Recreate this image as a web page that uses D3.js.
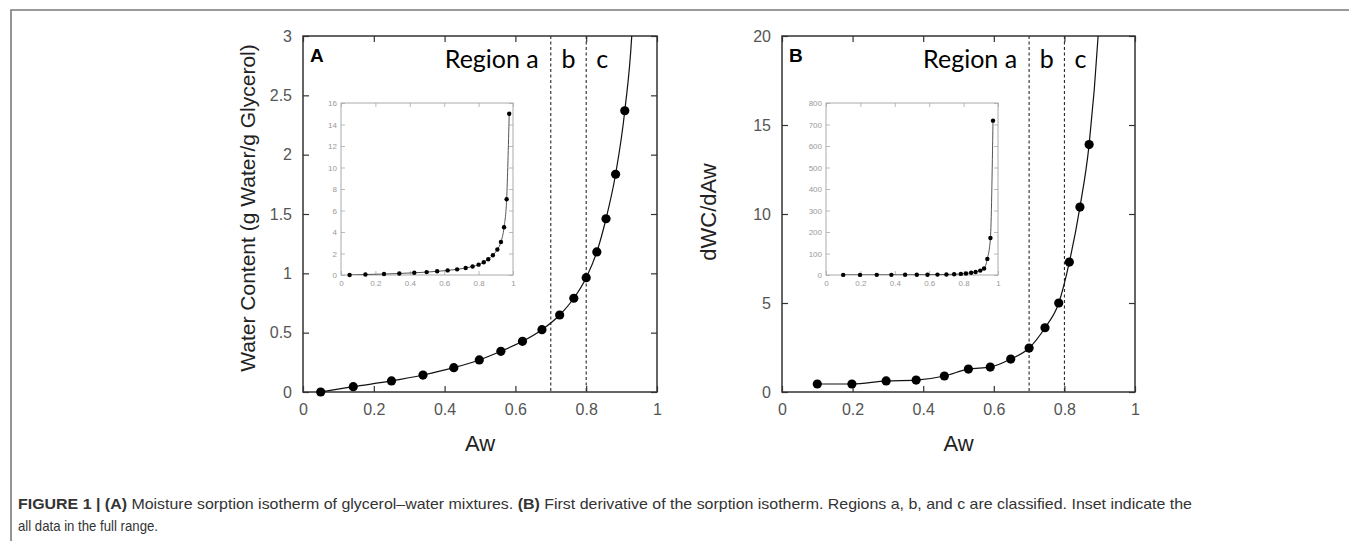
<!DOCTYPE html>
<html><head><meta charset="utf-8">
<script src="https://cdn.jsdelivr.net/npm/d3@7"></script>
<style>
html,body{margin:0;padding:0;background:#fff;}
svg{display:block;}
</style></head>
<body>
<svg id="chart" width="1349" height="541"></svg>
<script>
// ---------- DATA ----------
const awA = [0.05, 0.142, 0.25, 0.339, 0.426, 0.498, 0.559, 0.62, 0.675, 0.725, 0.765, 0.80, 0.83, 0.856, 0.883, 0.909, 0.93, 0.948, 0.963, 0.978];
const waterContent = [0, 0.045, 0.093, 0.143, 0.205, 0.27, 0.343, 0.427, 0.525, 0.649, 0.79, 0.963, 1.18, 1.46, 1.835, 2.37, 3.07, 4.44, 7.05, 15.0];
const awB = [0.10, 0.198, 0.295, 0.38, 0.46, 0.528, 0.59, 0.648, 0.70, 0.745, 0.784, 0.814, 0.844, 0.87, 0.897, 0.919, 0.938, 0.956, 0.971];
const dWCdAw = [0.45, 0.45, 0.62, 0.67, 0.9, 1.29, 1.40, 1.85, 2.47, 3.61, 5.0, 7.3, 10.39, 13.9, 20.5, 30, 75, 172, 718];

const xTicks = [0, 0.2, 0.4, 0.6, 0.8, 1];
const xTickLabels = ["0", "0.2", "0.4", "0.6", "0.8", "1"];
const yTicksA = [0, 0.5, 1, 1.5, 2, 2.5, 3];
const yTickLabelsA = ["0", "0.5", "1", "1.5", "2", "2.5", "3"];
const yTicksB = [0, 5, 10, 15, 20];
const yTickLabelsB = ["0", "5", "10", "15", "20"];
const insetYTicksA = [0, 2, 4, 6, 8, 10, 12, 14, 16];
const insetYTicksB = [0, 100, 200, 300, 400, 500, 600, 700, 800];
const regionBounds = [0.7, 0.8];
const regionLabels = ["Region a", "b", "c"];

const svg = d3.select("#chart");

// frame
svg.append("path").attr("d", "M11,541 L11,10 L1349,10")
  .attr("fill", "none").attr("stroke", "#7a7a7a").attr("stroke-width", 1.6);

function panel(cfg) {
  const g = svg.append("g");
  const x = d3.scaleLinear().domain([0, 1]).range([cfg.x0, cfg.x1]);
  const y = d3.scaleLinear().domain(cfg.yDomain).range([cfg.y1, cfg.y0]);
  const data = cfg.xs.map((d, i) => [d, cfg.ys[i]]);
  const clipId = "clip" + cfg.id;
  svg.append("clipPath").attr("id", clipId).append("rect")
    .attr("x", cfg.x0).attr("y", cfg.y0).attr("width", cfg.x1 - cfg.x0).attr("height", cfg.y1 - cfg.y0);

  if (!cfg.inset) {
    g.selectAll("line.reg").data(regionBounds).join("line")
      .attr("x1", d => x(d)).attr("x2", d => x(d))
      .attr("y1", cfg.y0).attr("y2", cfg.y1)
      .attr("stroke", "#111").attr("stroke-width", 1).attr("stroke-dasharray", "3,2.5");
  }

  const fs = cfg.inset ? 8 : 16;
  const col = cfg.inset ? "#999" : "#555";
  const tl = cfg.inset ? 4 : 6;
  const axisStroke = cfg.inset ? "#aaa" : "#333";

  const xb = g.append("g").attr("transform", `translate(0,${cfg.y1})`)
    .call(d3.axisBottom(x).tickValues(xTicks).tickFormat((d, i) => xTickLabels[i]).tickSize(-tl).tickPadding(cfg.inset ? 5 : 12));
  const xt = g.append("g").attr("transform", `translate(0,${cfg.y0})`)
    .call(d3.axisTop(x).tickValues(xTicks).tickFormat("").tickSize(-tl));
  const yl = g.append("g").attr("transform", `translate(${cfg.x0},0)`)
    .call(d3.axisLeft(y).tickValues(cfg.yTicks).tickFormat((d, i) => cfg.yLabels[i]).tickSize(-tl).tickPadding(cfg.inset ? 4 : 11));
  const yr = g.append("g").attr("transform", `translate(${cfg.x1},0)`)
    .call(d3.axisRight(y).tickValues(cfg.yTicks).tickFormat("").tickSize(-tl));
  [xb, xt, yl, yr].forEach(a => {
    a.select(".domain").remove();
    a.selectAll(".tick line").attr("stroke", axisStroke).attr("stroke-width", cfg.inset ? 0.8 : 1.2);
    a.selectAll(".tick text").attr("font-family", "Liberation Sans, Arial, sans-serif")
      .attr("font-size", fs).attr("fill", col);
  });
  g.append("rect").attr("x", cfg.x0).attr("y", cfg.y0)
    .attr("width", cfg.x1 - cfg.x0).attr("height", cfg.y1 - cfg.y0)
    .attr("fill", "none").attr("stroke", axisStroke).attr("stroke-width", cfg.inset ? 1 : 1.5);

  const line = d3.line().x(d => x(d[0])).y(d => y(d[1])).curve(d3.curveMonotoneX);
  g.append("path").datum(data).attr("d", line).attr("clip-path", `url(#${clipId})`)
    .attr("fill", "none").attr("stroke", cfg.inset ? "#555" : "#111").attr("stroke-width", cfg.inset ? 1 : 1.2);
  g.selectAll("circle").data(data.filter(d => d[1] <= cfg.yDomain[1])).join("circle")
    .attr("cx", d => x(d[0])).attr("cy", d => y(d[1])).attr("r", cfg.inset ? 2.2 : 4.6)
    .attr("fill", "#000");
  return {x, y};
}

function mainLabels(p, letter, cfg) {
  svg.append("text").attr("x", cfg.x0 + 7).attr("y", 62).text(letter)
    .attr("font-family", "Liberation Sans, Arial, sans-serif").attr("font-weight", "bold")
    .attr("font-size", 19).attr("fill", "#000");
  svg.append("text").attr("x", p.x(0.7) - 12).attr("y", 68).attr("text-anchor", "end")
    .text(regionLabels[0]).attr("font-family", "Lato, sans-serif").attr("font-size", 25).attr("fill", "#000");
  svg.append("text").attr("x", p.x(0.75)).attr("y", 68).attr("text-anchor", "middle")
    .text(regionLabels[1]).attr("font-family", "Lato, sans-serif").attr("font-size", 25).attr("fill", "#000");
  svg.append("text").attr("x", p.x(0.8) + 16).attr("y", 68).attr("text-anchor", "middle")
    .text(regionLabels[2]).attr("font-family", "Lato, sans-serif").attr("font-size", 25).attr("fill", "#000");
  svg.append("text").attr("x", (cfg.x0 + cfg.x1) / 2).attr("y", 451).attr("text-anchor", "middle")
    .text("Aw").attr("font-family", "Liberation Sans, Arial, sans-serif").attr("font-size", 22).attr("fill", "#222");
}

const cfgA = {id: "A", x0: 303, x1: 657, y0: 36, y1: 392, yDomain: [0, 3], yTicks: yTicksA, yLabels: yTickLabelsA, xs: awA, ys: waterContent};
const cfgAi = {id: "Ai", inset: true, x0: 341, x1: 513, y0: 103, y1: 275, yDomain: [0, 16], yTicks: insetYTicksA, yLabels: insetYTicksA.map(String), xs: awA, ys: waterContent};
const cfgB = {id: "B", x0: 782, x1: 1135, y0: 36, y1: 392, yDomain: [0, 20], yTicks: yTicksB, yLabels: yTickLabelsB, xs: awB, ys: dWCdAw};
const cfgBi = {id: "Bi", inset: true, x0: 826, x1: 998, y0: 103, y1: 275, yDomain: [0, 800], yTicks: insetYTicksB, yLabels: insetYTicksB.map(String), xs: awB, ys: dWCdAw};

const pA = panel(cfgA);
panel(cfgAi);
const pB = panel(cfgB);
panel(cfgBi);
mainLabels(pA, "A", cfgA);
mainLabels(pB, "B", cfgB);

svg.append("text").attr("transform", "translate(255,208) rotate(-90)").attr("text-anchor", "middle")
  .text("Water Content (g Water/g Glycerol)")
  .attr("font-family", "Liberation Sans, Arial, sans-serif").attr("font-size", 21).attr("fill", "#222");
svg.append("text").attr("transform", "translate(716,212) rotate(-90)").attr("text-anchor", "middle")
  .text("dWC/dAw")
  .attr("font-family", "Liberation Sans, Arial, sans-serif").attr("font-size", 22).attr("fill", "#222");

// caption
const cap1 = svg.append("text").attr("x", 18).attr("y", 509)
  .attr("font-family", "Liberation Sans, Arial, sans-serif").attr("font-size", 15).attr("fill", "#333")
  .attr("textLength", 1174).attr("lengthAdjust", "spacingAndGlyphs");
cap1.append("tspan").attr("font-weight", "bold").text("FIGURE 1 | (A)");
cap1.append("tspan").text(" Moisture sorption isotherm of glycerol\u2013water mixtures. ");
cap1.append("tspan").attr("font-weight", "bold").text("(B)");
cap1.append("tspan").text(" First derivative of the sorption isotherm. Regions a, b, and c are classified. Inset indicate the");
svg.append("text").attr("x", 18).attr("y", 531)
  .attr("font-family", "Liberation Sans, Arial, sans-serif").attr("font-size", 15).attr("fill", "#333")
  .attr("textLength", 140).attr("lengthAdjust", "spacingAndGlyphs")
  .text("all data in the full range.");
</script>
</body></html>
